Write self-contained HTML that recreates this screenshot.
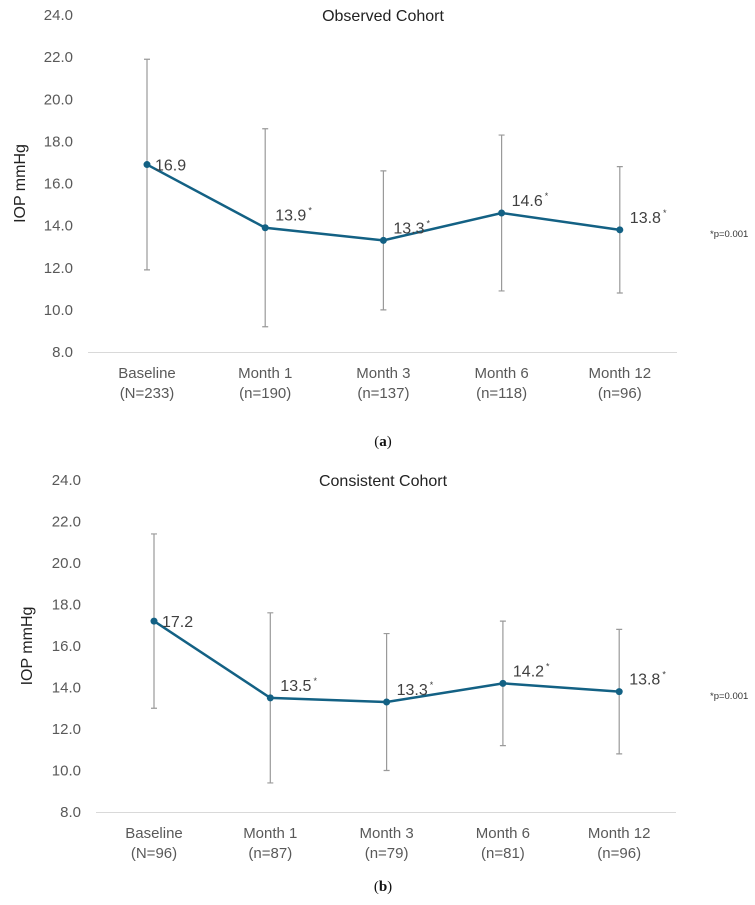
<!DOCTYPE html>
<html><head><meta charset="utf-8"><style>
html,body{margin:0;padding:0;background:#fff;width:755px;height:905px;overflow:hidden}
svg{display:block;font-family:"Liberation Sans",sans-serif}
</style></head><body>
<svg id="svg" width="755" height="905" viewBox="0 0 755 905"></svg>
<script>
const categories = ["Baseline","Month 1","Month 3","Month 6","Month 12"];
const nA = ["(N=233)","(n=190)","(n=137)","(n=118)","(n=96)"];
const meanA = [16.9,13.9,13.3,14.6,13.8];
const lowA = [11.9,9.2,10.0,10.9,10.8];
const highA = [21.9,18.6,16.6,18.3,16.8];
const starA = [false,true,true,true,true];
const nB = ["(N=96)","(n=87)","(n=79)","(n=81)","(n=96)"];
const meanB = [17.2,13.5,13.3,14.2,13.8];
const lowB = [13.0,9.4,10.0,11.2,10.8];
const highB = [21.4,17.6,16.6,17.2,16.8];
const starB = [false,true,true,true,true];
const yTicks = [8,10,12,14,16,18,20,22,24];

const NS="http://www.w3.org/2000/svg";
const svg=document.getElementById('svg');
function mk(tag,attrs,parent,text){const e=document.createElementNS(NS,tag);for(const k in attrs)e.setAttribute(k,attrs[k]);if(text!==undefined)e.textContent=text;(parent||svg).appendChild(e);return e;}

function chart(cfg){
  const g=mk('g',{});
  
  
  const y=v=>cfg.yBot-(v-8)*(cfg.yBot-cfg.yTop)/16;
  const x=i=>cfg.x0+i*cfg.dx;
  const title=mk('text',{x:383,y:cfg.yTop+6,'text-anchor':'middle','font-size':16,fill:'#222'},g,cfg.title);
  
  
  yTicks.forEach(t=>{
    const tl=mk('text',{x:cfg.tickX,y:y(t)+5,'text-anchor':'end','font-size':15,fill:'#595959'},g,t.toFixed(1));
    
    
  });
  const yt=mk('text',{transform:`translate(${cfg.ytX},${(cfg.yTop+cfg.yBot)/2}) rotate(-90)`,'text-anchor':'middle','font-size':16,fill:'#222'},g,'IOP mmHg');
  
  
  const ax=mk('line',{x1:cfg.axL,x2:cfg.axR,y1:cfg.yBot+0.5,y2:cfg.yBot+0.5,stroke:'#d9d9d9','stroke-width':1},g);
  
  
  categories.forEach((c,i)=>{
    const t1=mk('text',{x:x(i),y:cfg.yBot+26,'text-anchor':'middle','font-size':15,fill:'#595959'},g,c);
    
    
    const t2=mk('text',{x:x(i),y:cfg.yBot+46,'text-anchor':'middle','font-size':15,fill:'#595959'},g,cfg.n[i]);
    
    
    const eb=mk('path',{d:`M${x(i)},${y(cfg.lo[i])}V${y(cfg.hi[i])}M${x(i)-3},${y(cfg.lo[i])}H${x(i)+3}M${x(i)-3},${y(cfg.hi[i])}H${x(i)+3}`,stroke:'#9a9a9a','stroke-width':1.2,fill:'none'},g);
    
    
  });
  const pts=cfg.m.map((v,i)=>x(i)+','+y(v)).join(' ');
  const ln=mk('polyline',{points:pts,fill:'none',stroke:'#136184','stroke-width':2.5},g);
  
  
  cfg.m.forEach((v,i)=>{
    const c=mk('circle',{cx:x(i),cy:y(v),r:3.5,fill:'#136184'},g);
    
    
    const lx=i===0?x(i)+8:x(i)+10;
    const ly=i===0?y(v)+6:y(v)-7;
    const tl=mk('text',{x:lx,y:ly,'font-size':16,fill:'#404040'},g,v.toFixed(1));
    
    
    if(cfg.star[i]){
      const w=tl.getComputedTextLength();
      const s=mk('text',{x:lx+w+2,y:ly-7,'font-size':9,fill:'#404040'},g,'*');
      
      
    }
  });
  const p=mk('text',{x:710,y:cfg.pY,'font-size':9.5,fill:'#333'},g,'*p=0.001');
  
  
  const cap=mk('text',{x:383,y:cfg.capY,'text-anchor':'middle','font-size':15,'font-family':'Liberation Serif, serif',fill:'#111'},g);
  
  
  mk('tspan',{},cap,'(');mk('tspan',{'font-weight':'bold'},cap,cfg.cap);mk('tspan',{},cap,')');
}
chart({name:'chart-observed-cohort',title:'Observed Cohort',yTop:15,yBot:352,x0:147,dx:118.2,tickX:73,ytX:25,axL:88,axR:677,n:nA,m:meanA,lo:lowA,hi:highA,star:starA,pY:237,capY:446,cap:'a'});
chart({name:'chart-consistent-cohort',title:'Consistent Cohort',yTop:480,yBot:812,x0:154,dx:116.3,tickX:81,ytX:32,axL:96,axR:676,n:nB,m:meanB,lo:lowB,hi:highB,star:starB,pY:699,capY:891,cap:'b'});
</script>
</body></html>
